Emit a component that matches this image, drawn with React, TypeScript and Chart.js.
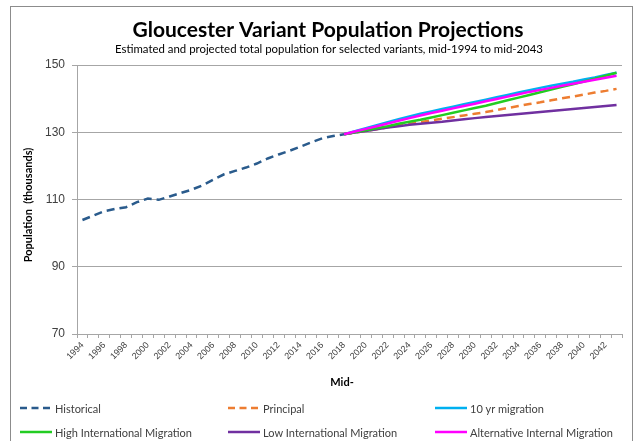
import React, { useEffect, useRef } from "react";
import { Chart, registerables } from "chart.js";
Chart.register(...registerables);

const years = [
  "1994", "1995", "1996", "1997", "1998", "1999", "2000", "2001", "2002", "2003",
  "2004", "2005", "2006", "2007", "2008", "2009", "2010", "2011", "2012", "2013",
  "2014", "2015", "2016", "2017", "2018", "2019", "2020", "2021", "2022", "2023",
  "2024", "2025", "2026", "2027", "2028", "2029", "2030", "2031", "2032", "2033",
  "2034", "2035", "2036", "2037", "2038", "2039", "2040", "2041", "2042", "2043",
];

// 1994 - 2018
const historical = [
  103.9, 105.2, 106.5, 107.2, 107.7, 109.2, 110.3, 109.9, 110.9, 111.9,
  112.9, 114.2, 115.9, 117.5, 118.5, 119.5, 120.7, 122.2, 123.4, 124.5,
  125.7, 127.0, 128.2, 128.9, 129.4,
];

// 2018 - 2043
const principal = [
  129.4, 129.9, 130.4, 130.9, 131.5, 132.0, 132.5, 133.0, 133.5, 134.0,
  134.5, 135.0, 135.5, 136.0, 136.6, 137.2, 137.8, 138.4, 138.9, 139.5,
  140.1, 140.6, 141.2, 141.8, 142.3, 142.9,
];
const tenYr = [
  129.4, 130.3, 131.2, 132.1, 133.0, 133.9, 134.7, 135.5, 136.2, 136.9,
  137.6, 138.3, 139.0, 139.7, 140.4, 141.1, 141.8, 142.5, 143.2, 143.8,
  144.4, 145.0, 145.7, 146.3, 147.0, 147.7,
];
const highIntl = [
  129.4, 130.0, 130.6, 131.2, 131.8, 132.5, 133.1, 133.7, 134.4, 135.1,
  135.8, 136.5, 137.2, 137.9, 138.7, 139.5, 140.3, 141.1, 141.9, 142.7,
  143.5, 144.3, 145.1, 145.9, 146.8, 147.7,
];
const lowIntl = [
  129.4, 129.9, 130.4, 130.9, 131.4, 131.8, 132.2, 132.5, 132.8, 133.1,
  133.5, 133.9, 134.2, 134.5, 134.8, 135.1, 135.4, 135.7, 136.0, 136.3,
  136.6, 136.9, 137.2, 137.5, 137.8, 138.1,
];
const altInternal = [
  129.4, 130.2, 131.0, 131.8, 132.6, 133.4, 134.2, 135.0, 135.7, 136.4,
  137.1, 137.8, 138.5, 139.2, 139.9, 140.6, 141.3, 142.0, 142.6, 143.2,
  143.8, 144.4, 145.0, 145.6, 146.2, 146.8,
];

const seriesNames = [
  "Historical",
  "Principal",
  "10 yr migration",
  "High International Migration",
  "Low International Migration",
  "Alternative Internal Migration",
];
const seriesColors = ["#2A5B8C", "#ED7D31", "#00B0F0", "#22CC22", "#7030A0", "#FF00FF"];
const seriesDashed = [true, true, false, false, false, false];

const TITLE = "Gloucester Variant Population Projections";
const SUBTITLE = "Estimated and projected total population for selected variants, mid-1994 to mid-2043";
const Y_TITLE = "Population  (thousands)";
const X_TITLE = "Mid-";

const FONT = "Lato, 'Liberation Sans', sans-serif";
const TICK_FONT = "'Liberation Sans', Arial, sans-serif";

const projStart = historical.length - 1;
const padProj = (arr: number[]) => [...Array(projStart).fill(null), ...arr];

const decorPlugin = {
  id: "decor",
  beforeDraw(chart: any) {
    const ctx = chart.ctx;
    ctx.save();
    ctx.fillStyle = "#ffffff";
    ctx.fillRect(0, 0, chart.width, chart.height);
    ctx.strokeStyle = "#8c8c8c";
    ctx.lineWidth = 1;
    ctx.strokeRect(10.5, 6.5, 622, 460);
    ctx.restore();
  },
  afterDraw(chart: any) {
    const ctx = chart.ctx;
    ctx.save();
    ctx.fillStyle = "#000000";
    ctx.textAlign = "center";
    ctx.textBaseline = "alphabetic";
    ctx.font = `bold 21px ${FONT}`;
    ctx.fillText(TITLE, 328, 37);
    ctx.font = `11.4px ${FONT}`;
    ctx.fillText(SUBTITLE, 329, 53);

    // axis titles
    ctx.font = `bold 11px ${FONT}`;
    ctx.textBaseline = "middle";
    ctx.fillText(X_TITLE, 342, 382);
    ctx.save();
    ctx.translate(28, 205);
    ctx.rotate(-Math.PI / 2);
    ctx.fillText(Y_TITLE, 0, 0);
    ctx.restore();

    // legend
    const cols = [20, 228, 435];
    const rows = [408, 432];
    ctx.font = `11px ${FONT}`;
    ctx.textAlign = "left";
    ctx.fillStyle = "#404040";
    seriesNames.forEach((name, i) => {
      const x = cols[i % 3];
      const y = rows[Math.floor(i / 3)];
      ctx.save();
      ctx.strokeStyle = seriesColors[i];
      ctx.lineWidth = 2.5;
      if (seriesDashed[i]) ctx.setLineDash([7, 4.5]);
      ctx.beginPath();
      ctx.moveTo(x, y);
      ctx.lineTo(x + 32, y);
      ctx.stroke();
      ctx.restore();
      ctx.fillText(name, x + 35, y + 1);
    });
    ctx.restore();
  },
};

export default function App() {
  const ref = useRef<HTMLCanvasElement | null>(null);
  useEffect(() => {
    if (!ref.current) return;
    const allData = [
      historical,
      padProj(principal),
      padProj(tenYr),
      padProj(highIntl),
      padProj(lowIntl),
      padProj(altInternal),
    ];
    const drawOrder = [6, 5, 3, 2, 4, 1];
    const chart = new Chart(ref.current, {
      type: "line",
      data: {
        labels: years,
        datasets: allData.map((d, i) => ({
          label: seriesNames[i],
          data: d,
          borderColor: seriesColors[i],
          backgroundColor: seriesColors[i],
          borderWidth: 2.5,
          borderDash: seriesDashed[i] ? [8, 5] : [],
          pointRadius: 0,
          tension: 0,
          fill: false,
          spanGaps: false,
          order: drawOrder[i],
        })),
      },
      options: {
        animation: false,
        responsive: false,
        maintainAspectRatio: false,
        layout: { padding: { top: 65, right: 17, bottom: 50, left: 0 } },
        plugins: {
          legend: { display: false },
          title: { display: false },
          tooltip: { enabled: false },
        },
        scales: {
          x: {
            offset: true,
            grid: {
              offset: true,
              drawOnChartArea: false,
              drawTicks: true,
              tickLength: 4,
              color: "#a6a6a6",
            },
            border: { color: "#a6a6a6" },
            ticks: {
              autoSkip: false,
              maxRotation: 45,
              minRotation: 45,
              padding: 2,
              color: "#404040",
              font: { family: TICK_FONT, size: 9 },
              callback: (_v: any, i: number) => (i % 2 === 0 ? years[i] : ""),
            },
            afterFit: (s: any) => {
              s.height = 57;
            },
          },
          y: {
            min: 70,
            max: 150,
            ticks: {
              stepSize: 20,
              padding: 7,
              color: "#404040",
              font: { family: TICK_FONT, size: 12 },
            },
            grid: { color: "#a6a6a6", tickLength: 5 },
            border: { color: "#a6a6a6" },
            afterFit: (s: any) => {
              s.width = 77;
            },
          },
        },
      },
      plugins: [decorPlugin],
    } as any);
    return () => chart.destroy();
  }, []);
  return (
    <div style={{ position: "fixed", left: 0, top: 0, width: 639, height: 441, background: "#fff" }}>
      <canvas ref={ref} width={639} height={441} style={{ display: "block" }} />
    </div>
  );
}
